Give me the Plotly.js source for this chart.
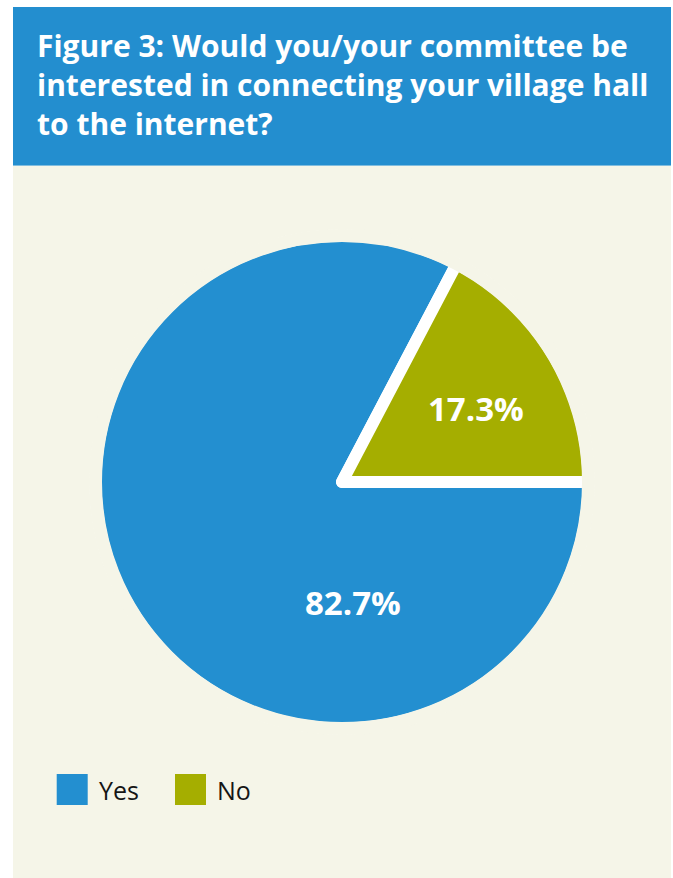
<!DOCTYPE html>
<html><head><meta charset="utf-8">
<script src="https://cdn.plot.ly/plotly-3.0.1.min.js"></script>
<style>html,body{margin:0;padding:0;background:#fff;} #chart{width:673px;height:878px;}</style>
</head><body><div id="chart"></div>
<script>
// ---- data ----
const categories = ['Yes', 'No'];
const values = [82.7, 17.3];
const sliceColors = ['#238FD0', '#A5AE00'];
const titleText = 'Figure 3: Would you/your committee be<br>interested in connecting your village hall<br>to the internet?';

// ---- layout helpers (pixels -> paper fractions) ----
const W = 673, H = 878;
const M = {l: 13, r: 2, t: 7, b: 0};
const gw = W - M.l - M.r, gh = H - M.t - M.b;
const px = x => (x - M.l) / gw;
const py = y => 1 - (y - M.t) / gh;

const HEADER_BLUE = '#238ECF';
const CREAM = '#F5F5E8';
const CX = 342, CY = 482, R = 246.5;   // pie centre and radius (px)
const GAP = 12;                          // white separator width

const pie = {
  type: 'pie',
  labels: categories,
  values: values,
  sort: false,
  direction: 'clockwise',
  rotation: 90,
  marker: {colors: sliceColors, line: {color: '#FFFFFF', width: GAP}},
  textinfo: 'none',
  hoverinfo: 'label+percent',
  showlegend: false,
  domain: {x: [px(CX - R), px(CX + R)], y: [py(CY + R), py(CY - R)]}
};

const shapes = [
  {type: 'rect', xref: 'paper', yref: 'paper', x0: 0, x1: 1, y0: py(165.7), y1: 1,
   fillcolor: HEADER_BLUE, line: {width: 0}, layer: 'below'},
  {type: 'rect', xref: 'paper', yref: 'paper', x0: 0, x1: 1, y0: 0, y1: py(165.7),
   fillcolor: CREAM, line: {width: 0}, layer: 'below'},
  // hides the white stroke on the outer rim so only the radial gaps stay white
  {type: 'circle', xref: 'paper', yref: 'paper',
   x0: px(CX - R), x1: px(CX + R), y0: py(CY + R), y1: py(CY - R),
   fillcolor: 'rgba(0,0,0,0)', line: {color: CREAM, width: 13}, layer: 'above'}
];

const annotations = [];
// legend (large swatches)
const legX = [56.7, 175], legY0 = 774, SW = 31;
categories.forEach((c, i) => {
  shapes.push({type: 'rect', xref: 'paper', yref: 'paper',
    x0: px(legX[i]), x1: px(legX[i] + SW), y0: py(legY0 + SW), y1: py(legY0),
    fillcolor: sliceColors[i], line: {width: 0}});
  annotations.push({xref: 'paper', yref: 'paper', x: px(legX[i] + SW + 9), y: py(legY0 + SW / 2),
    xanchor: 'left', yanchor: 'middle', showarrow: false, text: c,
    font: {family: 'Open Sans, sans-serif', size: 25, color: '#151515'}});
});
// slice value labels
const labelPos = [[353, 602], [476, 408]];
values.forEach((v, i) => {
  annotations.push({xref: 'paper', yref: 'paper', x: px(labelPos[i][0]), y: py(labelPos[i][1]),
    xanchor: 'center', yanchor: 'middle', showarrow: false, text: v.toFixed(1) + '%',
    font: {family: 'Open Sans, sans-serif', size: 33, color: '#FFFFFF', weight: 700}});
});

const layout = {
  width: W, height: H,
  margin: M,
  paper_bgcolor: '#FFFFFF',
  title: {text: titleText, xref: 'container', yref: 'container', x: 37 / W, xanchor: 'left',
          y: 1 - 57 / H, yanchor: 'top',
          font: {family: 'Open Sans, sans-serif', size: 30, color: '#FFFFFF', weight: 700}},
  shapes: shapes,
  annotations: annotations,
  showlegend: false
};

Plotly.newPlot('chart', [pie], layout, {displayModeBar: false});
</script>
</body></html>
